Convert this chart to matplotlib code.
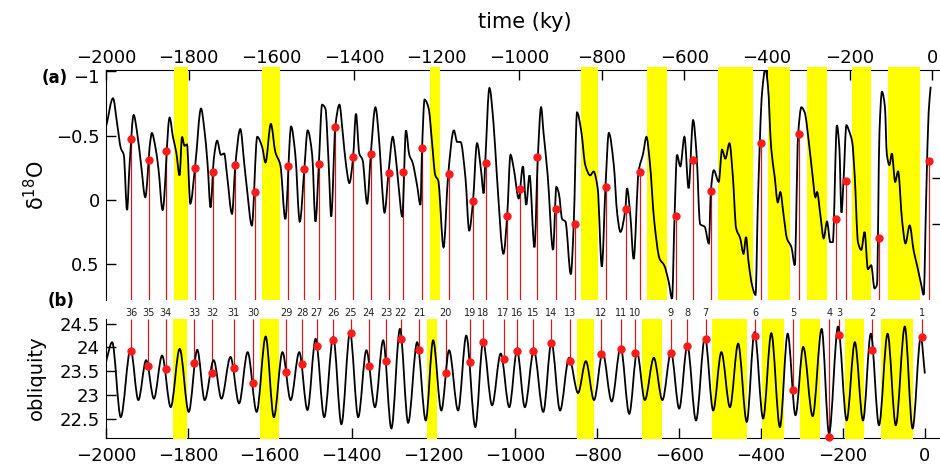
import matplotlib.pyplot as plt
import numpy as np
from matplotlib.path import Path
from matplotlib.patches import PathPatch
from matplotlib.transforms import ScaledTranslation

# benthic d18O stack (ky, permil)
d18o_time = [-1999, -1983, -1973, -1964, -1957, -1949, -1943, -1933, -1925, -1915,
             -1905, -1893, -1889, -1881, -1873, -1863, -1846, -1838, -1830, -1822,
             -1816, -1810, -1804, -1796, -1784, -1770, -1762, -1754, -1747, -1739,
             -1731, -1722, -1714, -1707, -1695, -1687, -1675, -1665, -1659, -1647,
             -1634, -1622, -1614, -1601, -1590, -1578, -1566, -1552, -1542, -1531,
             -1520, -1512, -1501, -1493, -1485, -1477, -1469, -1461, -1455, -1445,
             -1435, -1427, -1419, -1411, -1402, -1395, -1387, -1379, -1368, -1359,
             -1348, -1338, -1332, -1326, -1316, -1306, -1300, -1292, -1283, -1274,
             -1266, -1258, -1247, -1239, -1235, -1229, -1219, -1211, -1203, -1196,
             -1183, -1172, -1158, -1150, -1142, -1130, -1121, -1112, -1102, -1092,
             -1086, -1082, -1072, -1062, -1054, -1038, -1029, -1021, -1013, -1001,
             -991, -983, -975, -963, -955, -947, -941, -931, -918, -910,
             -904, -896, -888, -875, -868, -860, -850, -840, -828, -820,
             -810, -800, -791, -783, -771, -763, -755, -743, -739, -731,
             -723, -711, -700, -692, -684, -673, -660, -649, -638, -630,
             -624, -618, -610, -600, -590, -579, -571, -562, -551, -541,
             -536, -529, -517, -509, -501, -491, -483, -475, -465, -457,
             -451, -445, -436, -428, -422, -412, -404, -398, -390, -382,
             -374, -368, -360, -352, -341, -333, -325, -317, -309, -299,
             -290, -283, -279, -271, -263, -255, -247, -241, -231, -225,
             -220, -215, -208, -201, -194, -188, -180, -172, -164, -156,
             -148, -140, -134, -128, -122, -115, -110, -104, -98, -90,
             -83, -73, -65, -55, -45, -37, -27, -21, -15, -9,
             -4]
d18o_value = [-0.58, -0.79, -0.59, -0.40, -0.35, 0.08, -0.27, -0.66, -0.53, -0.27,
              -0.02, -0.45, -0.52, -0.42, -0.24, 0.08, -0.64, -0.49, -0.37, -0.19,
              -0.49, -0.42, -0.43, 0.03, -0.27, -0.71, -0.55, -0.27, 0.06, -0.32,
              -0.46, -0.35, -0.36, -0.19, 0.11, -0.27, -0.55, -0.27, -0.09, 0.20,
              -0.49, -0.41, -0.29, -0.59, -0.37, -0.27, 0.15, -0.57, -0.36, 0.17,
              -0.24, -0.54, -0.35, 0.17, -0.27, -0.74, -0.71, -0.27, 0.13, -0.57,
              -0.74, -0.52, -0.27, -0.13, -0.33, -0.67, -0.36, -0.31, 0.03, -0.36,
              -0.72, -0.42, -0.11, 0.10, -0.22, -0.49, -0.37, -0.11, 0.13, -0.54,
              -0.35, -0.29, -0.11, 0.04, -0.40, -0.78, -0.71, -0.45, -0.19, -0.15,
              0.37, -0.19, -0.54, -0.45, -0.45, -0.17, 0.24, 0.02, -0.44, -0.22,
              -0.05, -0.30, -0.87, -0.59, -0.19, 0.42, 0.12, -0.35, -0.24, -0.01,
              -0.26, 0.04, -0.19, 0.37, -0.32, -0.72, -0.52, -0.19, 0.39, -0.10,
              -0.05, 0.15, 0.17, 0.58, 0.19, -0.68, -0.54, -0.27, -0.19, -0.22,
              -0.09, 0.52, -0.11, -0.52, -0.27, 0.10, 0.25, 0.07, -0.09, 0.12,
              0.46, -0.22, -0.36, -0.49, -0.30, 0.17, 0.46, 0.51, 0.64, 0.77,
              0.13, -0.35, -0.26, -0.49, -0.09, -0.62, -0.37, 0.19, 0.21, 0.34,
              -0.07, -0.23, -0.14, -0.39, -0.32, -0.44, -0.19, 0.22, 0.30, 0.42,
              0.29, 0.48, 0.67, 0.74, -0.01, -0.84, -1.02, -0.89, -0.40, -0.19,
              0.02, -0.06, 0.12, 0.30, 0.37, 0.51, -0.50, -0.72, -0.68, -0.45,
              -0.19, -0.02, -0.06, 0.12, 0.30, 0.17, 0.33, 0.33, -0.58, -0.40,
              0.10, -0.15, -0.58, -0.53, -0.45, -0.19, 0.33, 0.39, 0.25, 0.54,
              0.51, 0.69, 0.66, -0.53, -0.84, -0.73, -0.35, -0.27, -0.36, -0.14,
              -0.22, 0.17, 0.34, 0.20, 0.40, 0.51, 0.66, 0.74, -0.01, -0.68,
              -0.88]

# obliquity turning points (ky, degrees)
obl_time = [-2000, -1985, -1964, -1940, -1921, -1902, -1883, -1863, -1842, -1820,
            -1798, -1777, -1759, -1737, -1718, -1696, -1675, -1654, -1632, -1610,
            -1590, -1569, -1549, -1528, -1508, -1488, -1467, -1445, -1425, -1404,
            -1384, -1364, -1343, -1323, -1303, -1282, -1262, -1240, -1219, -1201,
            -1181, -1162, -1140, -1120, -1098, -1079, -1057, -1036, -1015, -996,
            -977, -955, -932, -912, -891, -869, -847, -828, -808, -787,
            -765, -743, -722, -703, -684, -662, -641, -620, -600, -580,
            -559, -537, -517, -497, -476, -456, -435, -416, -395, -375,
            -354, -335, -316, -297, -274, -252, -234, -212, -191, -171,
            -151, -132, -112, -91, -71, -49, -30, -10, 0]
obl_value = [23.70, 24.11, 22.53, 23.97, 22.89, 23.73, 22.92, 23.83, 22.74, 23.97,
             22.64, 23.95, 22.89, 23.73, 22.92, 23.80, 22.82, 23.90, 22.64, 24.23,
             22.53, 23.90, 22.89, 23.90, 22.68, 24.18, 22.53, 24.22, 22.38, 24.32,
             22.53, 23.94, 22.74, 24.15, 22.29, 24.39, 22.41, 24.11, 22.46, 24.15,
             22.67, 23.94, 22.67, 24.25, 22.32, 24.11, 22.78, 23.87, 22.74, 23.94,
             22.74, 23.94, 22.64, 24.11, 22.67, 23.78, 23.04, 23.71, 22.89, 23.90,
             22.86, 24.01, 22.60, 23.90, 22.89, 23.78, 22.89, 23.90, 22.71, 24.04,
             22.46, 24.22, 22.67, 23.90, 22.74, 24.08, 22.43, 24.32, 22.50, 24.30,
             22.32, 24.29, 22.57, 24.01, 22.55, 24.39, 22.18, 24.44, 22.46, 24.11,
             22.46, 24.29, 22.36, 24.29, 22.36, 24.44, 22.29, 24.22, 23.45]

# numbered events
event_label = [36, 35, 34, 33, 32, 31, 30, 29, 28, 27, 26, 25, 24, 23, 22, 21, 20, 19,
               18, 17, 16, 15, 14, 13, 12, 11, 10, 9, 8, 7, 6, 5, 4, 3, 2, 1]
event_time = [-1939, -1897, -1854, -1785, -1741, -1688, -1640, -1560, -1521, -1485,
              -1445, -1402, -1358, -1316, -1280, -1235, -1170, -1111, -1080, -1029,
              -997, -956, -912, -866, -791, -742, -707, -621, -580, -535,
              -415, -322, -233, -209, -128, -8]
event_d18o = [-0.47, -0.31, -0.38, -0.25, -0.22, -0.27, -0.06, -0.26, -0.24, -0.275,
              -0.57, -0.33, -0.36, -0.21, -0.22, -0.40, -0.20, 0.01, -0.29, 0.13,
              -0.08, -0.33, 0.07, 0.19, -0.10, 0.07, -0.22, 0.13, -0.31, -0.07,
              -0.44, -0.51, 0.15, -0.15, 0.30, -0.30]
event_obl = [23.92, 23.61, 23.55, 23.68, 23.46, 23.57, 23.24, 23.49, 23.66, 24.03,
             24.16, 24.30, 23.61, 23.71, 24.18, 23.94, 23.47, 23.69, 24.11, 23.76,
             23.92, 23.92, 24.10, 23.71, 23.86, 23.97, 23.88, 23.88, 24.03, 24.18,
             24.25, 23.10, 22.12, 24.27, 23.95, 24.22]

# shaded intervals
band_start = [-1836, -1623, -1217, -850, -690, -519, -397, -304, -194, -108]
band_end = [-1801, -1578, -1191, -809, -642, -435, -344, -255, -149, -30]

xticks = list(range(-2000, 1, 200))
xticklabels = [str(t).replace('-', '\u2212') for t in xticks]


def smooth_path(x, y):
    # monotone cubic through the points, as bezier segments
    x = np.asarray(x, float)
    y = np.asarray(y, float)
    h = np.diff(x)
    d = np.diff(y) / h
    m = np.zeros_like(y)
    m[0], m[-1] = d[0], d[-1]
    for k in range(1, len(x) - 1):
        if d[k - 1] * d[k] > 0:
            w1 = 2 * h[k] + h[k - 1]
            w2 = h[k] + 2 * h[k - 1]
            m[k] = (w1 + w2) / (w1 / d[k - 1] + w2 / d[k])
    verts = [(x[0], y[0])]
    codes = [Path.MOVETO]
    for k in range(len(x) - 1):
        verts += [(x[k] + h[k] / 3, y[k] + m[k] * h[k] / 3),
                  (x[k + 1] - h[k] / 3, y[k + 1] - m[k + 1] * h[k] / 3),
                  (x[k + 1], y[k + 1])]
        codes += [Path.CURVE4] * 3
    return Path(verts, codes)


RED_LINE = '#c81e1e'
RED_DOT = '#ff1a1a'

fig = plt.figure(figsize=(9.4, 4.65), dpi=100)
left = 106 / 940
ax_a = fig.add_axes([left, 1 - 300 / 465, 1 - left, 230 / 465])
ax_b = fig.add_axes([left, 1 - 437.5 / 465, 1 - left, 118.5 / 465])

# (a) d18O
ax_a.set_xlim(-2000, 18.5)
ax_a.set_ylim(0.78, -1.01)
for s, e in zip(band_start, band_end):
    ax_a.axvspan(s, e, ymin=0, ymax=1.012, color='#ffff00', lw=0, zorder=2.6, clip_on=False)
ax_a.add_patch(PathPatch(smooth_path(d18o_time, d18o_value), fill=False,
                         ec='black', lw=1.3, zorder=3))
ax_a.vlines(event_time, event_d18o, 0.78, colors=RED_LINE, lw=0.9, zorder=2.8)
ax_a.plot(event_time, event_d18o, 'o', ms=5, color=RED_DOT, zorder=4)

ax_a.xaxis.tick_top()
ax_a.set_xticks(xticks, xticklabels)
ax_a.set_yticks([-1, -0.5, 0, 0.5], ['\u22121', '\u22120.5', '0', '0.5'])
ax_a.tick_params(axis='both', direction='in', length=7, width=1, labelsize=13)
ax_a.tick_params(axis='x', pad=2.5)
ax_a.tick_params(axis='y', pad=4.5)
ax_a.spines['bottom'].set_visible(False)
ax_a.spines['right'].set_visible(False)

# nudge the top y label down, clear of the time labels
top_lbl = ax_a.yaxis.get_major_ticks()[0].label1
top_lbl.set_transform(top_lbl.get_transform() +
                      ScaledTranslation(0, -5 / 100, fig.dpi_scale_trans))

# ticks of the neighbouring axis on the right edge
tw = ax_a.twinx()
tw.set_ylim(ax_a.get_ylim())
tw.set_yticks([-0.17, 0.19], ['', ''])
tw.tick_params(axis='y', direction='in', length=6, width=1)
for sp in tw.spines.values():
    sp.set_visible(False)

# (b) obliquity
ax_b.set_xlim(-2000, 37)
ax_b.set_ylim(22.1, 24.6)
for s, e in zip(band_start, band_end):
    ax_b.axvspan(s, e, ymin=-0.012, ymax=1, color='#ffff00', lw=0, zorder=2.6, clip_on=False)
ax_b.add_patch(PathPatch(smooth_path(obl_time, obl_value), fill=False,
                         ec='black', lw=1.3, zorder=3))
ax_b.vlines(event_time, event_obl, 24.6, colors=RED_LINE, lw=0.9, zorder=2.8)
ax_b.plot(event_time, event_obl, 'o', ms=5, color=RED_DOT, zorder=4, clip_on=False)
for t, lab in zip(event_time, event_label):
    ax_b.annotate(str(lab), (t, 1.0), xycoords=('data', 'axes fraction'),
                  xytext=(0, 0.5), textcoords='offset points', ha='center',
                  va='bottom', fontsize=7, color='#222222', annotation_clip=False)

ax_b.set_xticks(xticks, xticklabels)
ax_b.set_yticks([22.5, 23, 23.5, 24, 24.5], ['22.5', '23', '23.5', '24', '24.5'])
ax_b.tick_params(axis='both', direction='in', length=7, width=1, labelsize=13)
ax_b.tick_params(axis='x', pad=6.5)
ax_b.tick_params(axis='y', pad=4.5)
ax_b.spines['top'].set_visible(False)
ax_b.spines['right'].set_visible(False)

fig.text(525 / 940, 1 - 22 / 465, 'time (ky)', ha='center', va='center', fontsize=15)
fig.text(35.5 / 940, 1 - 185 / 465, 'δ$^{\\mathregular{18}}$O', ha='center', va='center',
         rotation=90, fontsize=15)
fig.text(36.5 / 940, 1 - 378 / 465, 'obliquity', ha='center', va='center',
         rotation=90, fontsize=14)
fig.text(55 / 940, 1 - 78 / 465, '(a)', ha='center', va='center', fontsize=12,
         fontweight='bold')
fig.text(61 / 940, 1 - 301 / 465, '(b)', ha='center', va='center', fontsize=12,
         fontweight='bold')

fig.savefig('out.png', dpi=100)
